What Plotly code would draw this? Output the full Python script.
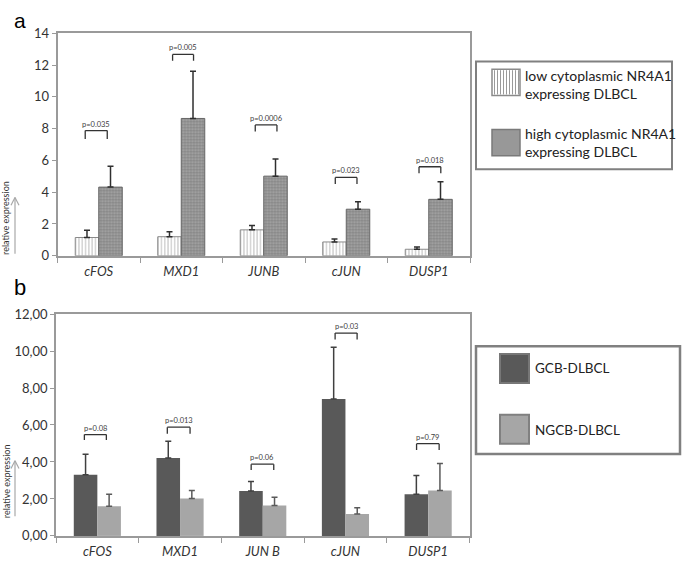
import plotly.graph_objects as go

W, H = 685, 565

# ---------------- data (panel a) ----------------
genes_a = ["cFOS", "MXD1", "JUNB", "cJUN", "DUSP1"]
low_a = [1.15, 1.20, 1.63, 0.87, 0.41]
low_a_err = [0.45, 0.31, 0.27, 0.19, 0.14]
high_a = [4.32, 8.64, 5.01, 2.93, 3.55]
high_a_err = [1.32, 2.97, 1.08, 0.47, 1.11]
pvals_a = ["p=0.035", "p=0.005", "p=0.0006", "p=0.023", "p=0.018"]

# ---------------- data (panel b) ----------------
genes_b = ["cFOS", "MXD1", "JUN B", "cJUN", "DUSP1"]
gcb_b = [3.31, 4.21, 2.43, 7.40, 2.26]
gcb_b_err = [1.11, 0.91, 0.51, 2.81, 1.01]
ngcb_b = [1.60, 2.02, 1.65, 1.18, 2.45]
ngcb_b_err = [0.65, 0.43, 0.44, 0.35, 1.47]
pvals_b = ["p=0.08", "p=0.013", "p=0.06", "p=0.03", "p=0.79"]

# ---------------- annotation layout (bracket placement) ----------------
# (left offset, right offset, bracket top, leg bottom) in category/data units
brackets_a = [(-0.164, 0.103, 7.88, 7.35), (-0.105, 0.149, 12.67, 12.27),
              (-0.103, 0.160, 8.23, 7.82), (-0.133, 0.130, 4.93, 4.52),
              (-0.118, 0.146, 5.60, 5.20)]
brackets_b = [(-0.157, 0.109, 5.48, 5.19), (-0.154, 0.121, 5.88, 5.53),
              (-0.140, 0.133, 3.88, 3.57), (-0.125, 0.141, 10.97, 10.62),
              (-0.140, 0.133, 4.99, 4.65)]

FONT = "Lato, 'Open Sans', sans-serif"
LETTER_FONT = "'Liberation Sans', Arial, sans-serif"
AXC = "#9a9a9a"
TXT = "#333333"


def px(x):
    return x / W


def py(y):
    return 1 - y / H


fig = go.Figure()

# panel a bars
fig.add_trace(go.Bar(
    x=genes_a, y=low_a, xaxis="x", yaxis="y", name="low",
    marker=dict(color="white", line=dict(color="#8a8a8a", width=1),
                pattern=dict(shape="|", fgcolor="#8a8a8a", bgcolor="white",
                             size=3.3, solidity=0.35)),
    error_y=dict(type="data", symmetric=False, array=low_a_err,
                 arrayminus=[0] * len(low_a), color="#2f2f2f",
                 thickness=1.5, width=3),
    showlegend=False))
fig.add_trace(go.Bar(
    x=genes_a, y=high_a, xaxis="x", yaxis="y", name="high",
    marker=dict(color="#909090", line=dict(color="#666666", width=1),
                pattern=dict(shape=".", fgcolor="#5c5c5c", bgcolor="#a8a8a8",
                             size=3, solidity=0.5)),
    error_y=dict(type="data", symmetric=False, array=high_a_err,
                 arrayminus=[0] * len(high_a), color="#2f2f2f",
                 thickness=1.5, width=3),
    showlegend=False))

# panel b bars
fig.add_trace(go.Bar(
    x=genes_b, y=gcb_b, xaxis="x2", yaxis="y2", name="GCB-DLBCL",
    marker=dict(color="#595959", line=dict(width=0)),
    error_y=dict(type="data", symmetric=False, array=gcb_b_err,
                 arrayminus=[0] * len(gcb_b), color="#404040",
                 thickness=1.5, width=3),
    showlegend=False))
fig.add_trace(go.Bar(
    x=genes_b, y=ngcb_b, xaxis="x2", yaxis="y2", name="NGCB-DLBCL",
    marker=dict(color="#a6a6a6", line=dict(width=0)),
    error_y=dict(type="data", symmetric=False, array=ngcb_b_err,
                 arrayminus=[0] * len(ngcb_b), color="#5a5a5a",
                 thickness=1.5, width=3),
    showlegend=False))

shapes = []
annotations = []

# significance brackets
for (xr, yr, brs, pv) in [("x", "y", brackets_a, pvals_a), ("x2", "y2", brackets_b, pvals_b)]:
    for i, (l, r, top, bot) in enumerate(brs):
        x0, x1 = i + l, i + r
        ln = dict(color="#333333", width=1.3)
        shapes.append(dict(type="line", xref=xr, yref=yr, x0=x0, x1=x0, y0=bot, y1=top, line=ln))
        shapes.append(dict(type="line", xref=xr, yref=yr, x0=x0, x1=x1, y0=top, y1=top, line=ln))
        shapes.append(dict(type="line", xref=xr, yref=yr, x0=x1, x1=x1, y0=top, y1=bot, line=ln))
        annotations.append(dict(xref=xr, yref=yr, x=(x0 + x1) / 2, y=top, text=pv[i],
                                showarrow=False, xanchor="center", yanchor="bottom",
                                font=dict(family=FONT, size=7.5, color="#404040")))

# panel letters
annotations.append(dict(xref="paper", yref="paper", x=px(20), y=1, text="a",
                        xanchor="center", yanchor="top", showarrow=False, borderpad=0,
                        font=dict(family=LETTER_FONT, size=21, color="#000")))
annotations.append(dict(xref="paper", yref="paper", x=px(20), y=py(288), text="b",
                        xanchor="center", yanchor="middle", showarrow=False,
                        font=dict(family=LETTER_FONT, size=22, color="#000")))

# y titles + arrows
for (cy, ybot, ytop) in [(216, 253, 195), (487, 523, 466)]:
    annotations.append(dict(xref="paper", yref="paper", x=px(6), y=py(cy),
                            text="relative expression", textangle=-90, showarrow=False,
                            xanchor="center", yanchor="middle",
                            font=dict(family=FONT, size=9, color=TXT)))
    shapes.append(dict(type="line", xref="paper", yref="paper",
                       x0=px(15), x1=px(15), y0=py(ybot), y1=py(ytop),
                       line=dict(color="#a8a8a8", width=1.2)))
    shapes.append(dict(type="line", xref="paper", yref="paper",
                       x0=px(11), x1=px(15), y0=py(ytop + 8), y1=py(ytop),
                       line=dict(color="#a8a8a8", width=1.2)))
    shapes.append(dict(type="line", xref="paper", yref="paper",
                       x0=px(19), x1=px(15), y0=py(ytop + 8), y1=py(ytop),
                       line=dict(color="#a8a8a8", width=1.2)))

# legend a (box, swatches, text)
shapes.append(dict(type="rect", xref="paper", yref="paper",
                   x0=px(476), x1=px(672), y0=py(166), y1=py(55),
                   line=dict(color="#808080", width=2), fillcolor="white", layer="below"))
shapes.append(dict(type="rect", xref="paper", yref="paper",
                   x0=px(492), x1=px(520), y0=py(90), y1=py(63),
                   line=dict(color="#8a8a8a", width=1.5), fillcolor="white"))
xs = 494.5
while xs < 519:
    shapes.append(dict(type="line", xref="paper", yref="paper",
                       x0=px(xs), x1=px(xs), y0=py(89), y1=py(64),
                       line=dict(color="#9a9a9a", width=1)))
    xs += 3
shapes.append(dict(type="rect", xref="paper", yref="paper",
                   x0=px(492), x1=px(520), y0=py(152), y1=py(125),
                   line=dict(color="#7a7a7a", width=1.5), fillcolor="#989898"))
for (ty, t) in [(78.5, "low cytoplasmic NR4A1<br>expressing DLBCL"),
                (138.5, "high cytoplasmic NR4A1<br>expressing DLBCL")]:
    annotations.append(dict(xref="paper", yref="paper", x=px(523), y=py(ty), text=t,
                            xanchor="left", yanchor="middle", align="left", showarrow=False,
                            font=dict(family=FONT, size=14, color="#222")))

# legend b
shapes.append(dict(type="rect", xref="paper", yref="paper",
                   x0=px(476), x1=px(680), y0=py(459), y1=py(348),
                   line=dict(color="#808080", width=2.5), fillcolor="white", layer="below"))
shapes.append(dict(type="rect", xref="paper", yref="paper",
                   x0=px(500), x1=px(529), y0=py(386), y1=py(356),
                   line=dict(color="#777777", width=2), fillcolor="#595959"))
shapes.append(dict(type="rect", xref="paper", yref="paper",
                   x0=px(500), x1=px(529), y0=py(448.5), y1=py(418.5),
                   line=dict(color="#808080", width=2), fillcolor="#a6a6a6"))
for (ty, t) in [(370, "GCB-DLBCL"), (434, "NGCB-DLBCL")]:
    annotations.append(dict(xref="paper", yref="paper", x=px(533), y=py(ty), text=t,
                            xanchor="left", yanchor="middle", showarrow=False,
                            font=dict(family=FONT, size=13.5, color="#222")))

xcommon = dict(type="category", tickson="boundaries", ticks="outside", ticklen=5,
               tickcolor=AXC, showline=True, linecolor=AXC, linewidth=1.5, mirror=True,
               showgrid=False, ticklabelstandoff=3,
               tickfont=dict(family=FONT, size=13, color=TXT, style="italic"))
ycommon = dict(ticks="outside", ticklen=4, tickcolor=AXC, showline=True, linecolor=AXC,
               linewidth=1.5, mirror=True, showgrid=False, zeroline=False,
               tickfont=dict(family=FONT, size=13, color=TXT))

fig.update_layout(
    width=W, height=H, autosize=False,
    margin=dict(l=0, r=0, t=0, b=0),
    paper_bgcolor="white", plot_bgcolor="white",
    separators=",.",
    barmode="group", bargap=0.43, bargroupgap=0,
    showlegend=False,
    xaxis=dict(domain=[px(57.5), px(470)], anchor="y", **xcommon),
    yaxis=dict(domain=[py(255), py(26)], anchor="x", range=[0, 14], dtick=2, **ycommon),
    xaxis2=dict(domain=[px(56), px(469.5)], anchor="y2", **xcommon),
    yaxis2=dict(domain=[py(543.3), py(315)], anchor="x2", range=[0, 12], dtick=2,
                tickformat=".2f", **ycommon),
    shapes=shapes,
    annotations=annotations,
)

fig.write_html("out.html", config={"displayModeBar": False},
               post_script="document.body.style.margin='0';document.body.style.overflow='hidden';")
